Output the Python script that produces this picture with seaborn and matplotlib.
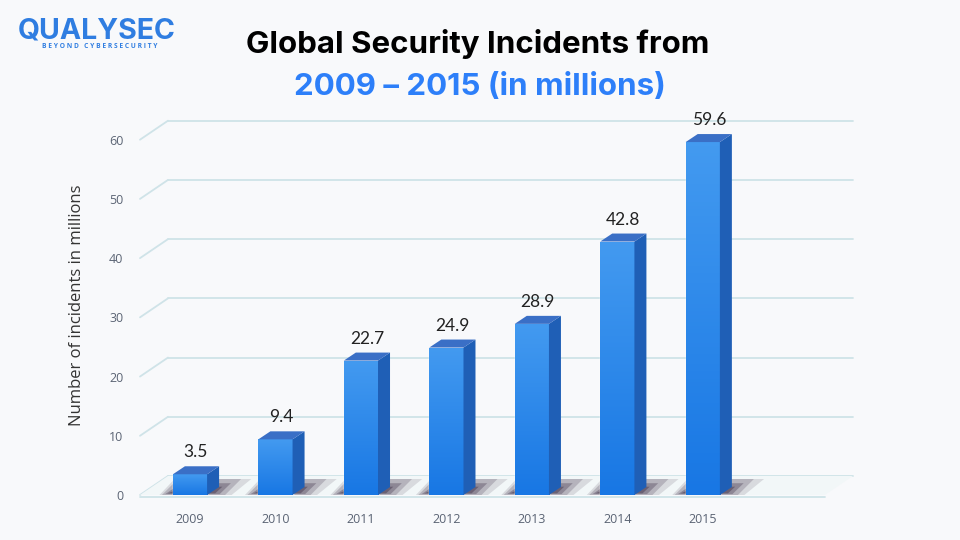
import numpy as np
import pandas as pd
import matplotlib
matplotlib.use("Agg")
import matplotlib.pyplot as plt
import matplotlib.transforms as mtransforms
from matplotlib.patches import Polygon
import seaborn as sns

# chart data
years = ["2009", "2010", "2011", "2012", "2013", "2014", "2015"]
incidents = [3.5, 9.4, 22.7, 24.9, 28.9, 42.8, 59.6]
y_ticks = [0, 10, 20, 30, 40, 50, 60]

bg = "#f8f9fb"
sns.set_theme(style="white")
plt.rcParams["font.family"] = ["Open Sans", "DejaVu Sans"]

df = pd.DataFrame({"year": years, "incidents": incidents})

fig = plt.figure(figsize=(9.6, 5.4), dpi=100, facecolor=bg)
ax = fig.add_axes([140 / 960, 45 / 540, 685 / 960, 379 / 540])
ax.set_facecolor("none")

sns.barplot(data=df, x="year", y="incidents", color="#2b8af0", width=0.4,
            saturation=1, ax=ax, zorder=3)

xlim = (-0.585, 7.43)
ylim = (0, 64)
ax.set_xlim(*xlim)
ax.set_ylim(*ylim)

# pixel -> data conversions for the fake depth
px_x = (xlim[1] - xlim[0]) / 685.0
px_y = (ylim[1] - ylim[0]) / 379.0

grid_c = "#cfe3e8"

# back grid lines (shifted by the 3D depth)
grid_off = mtransforms.offset_copy(ax.transData, fig=fig, x=28, y=19, units="dots")
for v in y_ticks:
    ax.plot([xlim[0], xlim[1]], [v, v], color=grid_c, lw=1.3,
            transform=grid_off, clip_on=False, zorder=0)
    ax.plot([xlim[0], xlim[0] + 28 * px_x], [v, v + 19 * px_y],
            color=grid_c, lw=1.3, clip_on=False, zorder=0)

# floor
floor = Polygon([[xlim[0], 0], [xlim[1], 0],
                 [xlim[1] + 28 * px_x, 19 * px_y], [xlim[0] + 28 * px_x, 19 * px_y]],
                closed=True, facecolor="#f2f7f8", edgecolor="none",
                clip_on=False, zorder=1)
ax.add_patch(floor)
ax.plot([xlim[0], xlim[1]], [-0.4, -0.4], color=grid_c, lw=1.3, clip_on=False, zorder=1.5)

dx = 12 * px_x
dy = 8 * px_y
grad = np.linspace(0, 1, 100).reshape(-1, 1)
cmap = matplotlib.colors.LinearSegmentedColormap.from_list("b", ["#1877e4", "#439af0"])

for bar, val in zip(ax.patches[:len(years)], incidents):
    x0 = bar.get_x()
    w = bar.get_width()
    x1 = x0 + w
    h = bar.get_height()
    # soft shadow on floor
    for k, a in [(1.3, 0.14), (1.0, 0.22), (0.7, 0.32), (0.45, 0.42)]:
        sh = Polygon([[x0 - 11 * px_x * k, 3 * px_y * (1 - k)], [x1 + 18 * px_x * k, 3 * px_y * (1 - k)],
                      [x1 + (18 + 16) * px_x * k, 14 * px_y * min(k, 1.0) + 2 * px_y],
                      [x0 + (16 - 11 * k) * px_x, 14 * px_y * min(k, 1.0) + 2 * px_y]],
                     closed=True, facecolor="#3a2c44", edgecolor="none", alpha=a, zorder=2)
        ax.add_patch(sh)
    # gradient front face
    im = ax.imshow(grad, extent=[x0, x1, 0, h], origin="lower", cmap=cmap,
                   aspect="auto", zorder=3.5)
    im.set_clip_path(bar)
    # side face
    side = Polygon([[x1, 0], [x1, h], [x1 + dx, h + dy], [x1 + dx, dy]],
                   closed=True, facecolor="#1f5fb6", edgecolor="none", zorder=3.5)
    ax.add_patch(side)
    # top face
    top = Polygon([[x0, h], [x1, h], [x1 + dx, h + dy], [x0 + dx, h + dy]],
                  closed=True, facecolor="#3a6fc6", edgecolor="none", zorder=3.5)
    ax.add_patch(top)
    ax.text(x0 + (w + dx) / 2, h + dy + 6 * px_y, f"{val}", ha="center", va="bottom",
            fontsize=12.5, color="#222222", family=["Lato", "DejaVu Sans"], zorder=5)

ax.set_xlim(*xlim)
ax.set_ylim(*ylim)
ax.set_yticks(y_ticks)
ax.tick_params(axis="both", length=0, labelsize=9, colors="#5b6474")
ax.tick_params(axis="x", pad=13)
ax.tick_params(axis="y", pad=12)
ax.set_xlabel("")
ax.set_ylabel("")
sns.despine(ax=ax, left=True, bottom=True)

fig.text(77 / 960, 1 - 305 / 540, "Number of incidents in millions", rotation=90,
         ha="center", va="center", fontsize=12, color="#333333")

# titles
fig.text(478 / 960, 1 - 44 / 540, "Global Security Incidents from", ha="center",
         va="center", fontsize=22.5, fontweight="bold", color="#000000",
         family=["Inter", "DejaVu Sans"])
fig.text(480 / 960, 1 - 87 / 540, "2009 – 2015 (in millions)", ha="center",
         va="center", fontsize=22.5, fontweight="bold", color="#2d7ff9",
         family=["Inter", "DejaVu Sans"])

# logo
fig.text(18 / 960, 1 - 31 / 540, "QUALYSEC", ha="left", va="center", fontsize=20.5,
         fontweight="bold", color="#2f7de1", family=["Inter", "DejaVu Sans"])
fig.text(100 / 960, 1 - 47 / 540, "B E Y O N D   C Y B E R S E C U R I T Y", ha="center",
         va="center", fontsize=4.8, fontweight="bold", color="#2f7de1")

fig.savefig("out.png", dpi=100, facecolor=bg)
